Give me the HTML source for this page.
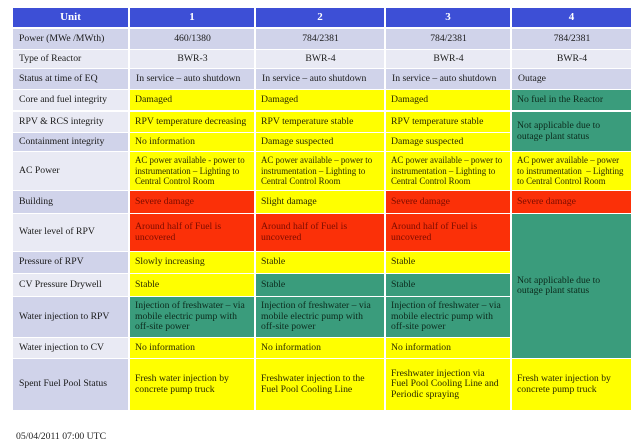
<!DOCTYPE html>
<html><head><meta charset="utf-8">
<style>
html,body{margin:0;padding:0;background:#fff;}
body{width:640px;height:443px;position:relative;overflow:hidden;font-family:"Liberation Serif",serif;font-size:9.7px;line-height:10.5px;}
.c{position:absolute;display:flex;align-items:center;box-sizing:border-box;padding:0 5px;white-space:nowrap;color:#1a1a1a;overflow:hidden;}
.h{background:#3d4fd6;color:#fff;font-weight:bold;font-size:11px;justify-content:center;}
.ld{background:#d0d3ea;padding-left:6px;}
.ll{background:#e9eaf4;padding-left:6px;}
.ctr{justify-content:center;}
.y{background:#ffff00;color:#2a2a00;}
.r{background:#fb3008;color:#7a0c00;}
.g{background:#3a9c7c;color:#0c2a1c;}
.sm{font-size:8.9px;}
.date{position:absolute;left:16px;top:432px;font-size:9.7px;color:#222;}
</style></head><body>
<!-- header -->
<div class="c h" style="left:13px;top:8px;width:115px;height:19px;">Unit</div>
<div class="c h" style="left:130px;top:8px;width:124px;height:19px;">1</div>
<div class="c h" style="left:256px;top:8px;width:128px;height:19px;">2</div>
<div class="c h" style="left:386px;top:8px;width:124px;height:19px;">3</div>
<div class="c h" style="left:512px;top:8px;width:119px;height:19px;">4</div>

<!-- Power -->
<div class="c ld" style="left:13px;top:29px;width:115px;height:20px;">Power (MWe /MWth)</div>
<div class="c ld ctr" style="left:130px;top:29px;width:124px;height:20px;">460/1380</div>
<div class="c ld ctr" style="left:256px;top:29px;width:128px;height:20px;">784/2381</div>
<div class="c ld ctr" style="left:386px;top:29px;width:124px;height:20px;">784/2381</div>
<div class="c ld ctr" style="left:512px;top:29px;width:119px;height:20px;">784/2381</div>

<!-- Type -->
<div class="c ll" style="left:13px;top:50px;width:115px;height:18px;">Type of Reactor</div>
<div class="c ll ctr" style="left:130px;top:50px;width:124px;height:18px;">BWR-3</div>
<div class="c ll ctr" style="left:256px;top:50px;width:128px;height:18px;">BWR-4</div>
<div class="c ll ctr" style="left:386px;top:50px;width:124px;height:18px;">BWR-4</div>
<div class="c ll ctr" style="left:512px;top:50px;width:119px;height:18px;">BWR-4</div>

<!-- Status -->
<div class="c ld" style="left:13px;top:69px;width:115px;height:20px;">Status at time of EQ</div>
<div class="c ld" style="left:130px;top:69px;width:124px;height:20px;">In service – auto shutdown</div>
<div class="c ld" style="left:256px;top:69px;width:128px;height:20px;">In service – auto shutdown</div>
<div class="c ld" style="left:386px;top:69px;width:124px;height:20px;">In service – auto shutdown</div>
<div class="c ld" style="left:512px;top:69px;width:119px;height:20px;">Outage</div>

<!-- Core -->
<div class="c ll" style="left:13px;top:90px;width:115px;height:20px;">Core and fuel integrity</div>
<div class="c y" style="left:130px;top:90px;width:124px;height:20px;">Damaged</div>
<div class="c y" style="left:256px;top:90px;width:128px;height:20px;">Damaged</div>
<div class="c y" style="left:386px;top:90px;width:124px;height:20px;">Damaged</div>
<div class="c g" style="left:512px;top:90px;width:119px;height:20px;">No fuel in the Reactor</div>

<!-- RPV & RCS -->
<div class="c ll" style="left:13px;top:112px;width:115px;height:20px;">RPV &amp; RCS integrity</div>
<div class="c y" style="left:130px;top:112px;width:124px;height:20px;">RPV temperature decreasing</div>
<div class="c y" style="left:256px;top:112px;width:128px;height:20px;">RPV temperature stable</div>
<div class="c y" style="left:386px;top:112px;width:124px;height:20px;">RPV temperature stable</div>
<div class="c g" style="left:512px;top:112px;width:119px;height:39px;">Not applicable due to<br>outage plant status</div>

<!-- Containment -->
<div class="c ld" style="left:13px;top:133px;width:115px;height:18px;">Containment integrity</div>
<div class="c y" style="left:130px;top:133px;width:124px;height:18px;">No information</div>
<div class="c y" style="left:256px;top:133px;width:128px;height:18px;">Damage suspected</div>
<div class="c y" style="left:386px;top:133px;width:124px;height:18px;">Damage suspected</div>

<!-- AC Power -->
<div class="c ll" style="left:13px;top:152px;width:115px;height:38px;">AC Power</div>
<div class="c y sm" style="left:130px;top:152px;width:124px;height:38px;">AC power available - power to<br>instrumentation – Lighting to<br>Central Control Room</div>
<div class="c y sm" style="left:256px;top:152px;width:128px;height:38px;">AC power available – power to<br>instrumentation – Lighting to<br>Central Control Room</div>
<div class="c y sm" style="left:386px;top:152px;width:124px;height:38px;">AC power available – power to<br>instrumentation – Lighting to<br>Central Control Room</div>
<div class="c y sm" style="left:512px;top:152px;width:119px;height:38px;">AC power available – power<br>to instrumentation &nbsp;– Lighting<br>to Central Control Room</div>

<!-- Building -->
<div class="c ld" style="left:13px;top:191px;width:115px;height:22px;">Building</div>
<div class="c r" style="left:130px;top:191px;width:124px;height:22px;">Severe damage</div>
<div class="c y" style="left:256px;top:191px;width:128px;height:22px;">Slight damage</div>
<div class="c r" style="left:386px;top:191px;width:124px;height:22px;">Severe damage</div>
<div class="c r" style="left:512px;top:191px;width:119px;height:22px;">Severe damage</div>

<!-- Water level -->
<div class="c ll" style="left:13px;top:214px;width:115px;height:37px;">Water level of RPV</div>
<div class="c r" style="left:130px;top:214px;width:124px;height:37px;">Around half of Fuel is<br>uncovered</div>
<div class="c r" style="left:256px;top:214px;width:128px;height:37px;">Around half of Fuel is<br>uncovered</div>
<div class="c r" style="left:386px;top:214px;width:124px;height:37px;">Around half of Fuel is<br>uncovered</div>
<div class="c g" style="left:512px;top:214px;width:119px;height:144px;">Not applicable due to<br>outage plant status</div>

<!-- Pressure -->
<div class="c ld" style="left:13px;top:252px;width:115px;height:21px;">Pressure of RPV</div>
<div class="c y" style="left:130px;top:252px;width:124px;height:21px;">Slowly increasing</div>
<div class="c y" style="left:256px;top:252px;width:128px;height:21px;">Stable</div>
<div class="c y" style="left:386px;top:252px;width:124px;height:21px;">Stable</div>

<!-- CV Pressure -->
<div class="c ll" style="left:13px;top:274px;width:115px;height:22px;">CV Pressure Drywell</div>
<div class="c y" style="left:130px;top:274px;width:124px;height:22px;">Stable</div>
<div class="c g" style="left:256px;top:274px;width:128px;height:22px;">Stable</div>
<div class="c g" style="left:386px;top:274px;width:124px;height:22px;">Stable</div>

<!-- Water injection RPV -->
<div class="c ld" style="left:13px;top:297px;width:115px;height:40px;">Water injection to RPV</div>
<div class="c g" style="left:130px;top:297px;width:124px;height:40px;">Injection of freshwater – via<br>mobile electric pump with<br>off-site power</div>
<div class="c g" style="left:256px;top:297px;width:128px;height:40px;">Injection of freshwater – via<br>mobile electric pump with<br>off-site power</div>
<div class="c g" style="left:386px;top:297px;width:124px;height:40px;">Injection of freshwater – via<br>mobile electric pump with<br>off-site power</div>

<!-- Water injection CV -->
<div class="c ll" style="left:13px;top:338px;width:115px;height:20px;">Water injection to CV</div>
<div class="c y" style="left:130px;top:338px;width:124px;height:20px;">No information</div>
<div class="c y" style="left:256px;top:338px;width:128px;height:20px;">No information</div>
<div class="c y" style="left:386px;top:338px;width:124px;height:20px;">No information</div>

<!-- Spent fuel -->
<div class="c ld" style="left:13px;top:359px;width:115px;height:51px;">Spent Fuel Pool Status</div>
<div class="c y" style="left:130px;top:359px;width:124px;height:51px;">Fresh water injection by<br>concrete pump truck</div>
<div class="c y" style="left:256px;top:359px;width:128px;height:51px;">Freshwater injection to the<br>Fuel Pool Cooling Line</div>
<div class="c y" style="left:386px;top:359px;width:124px;height:51px;">Freshwater injection via<br>Fuel Pool Cooling Line and<br>Periodic spraying</div>
<div class="c y" style="left:512px;top:359px;width:119px;height:51px;">Fresh water injection by<br>concrete pump truck</div>

<div class="date">05/04/2011 07:00 UTC</div>
</body></html>
